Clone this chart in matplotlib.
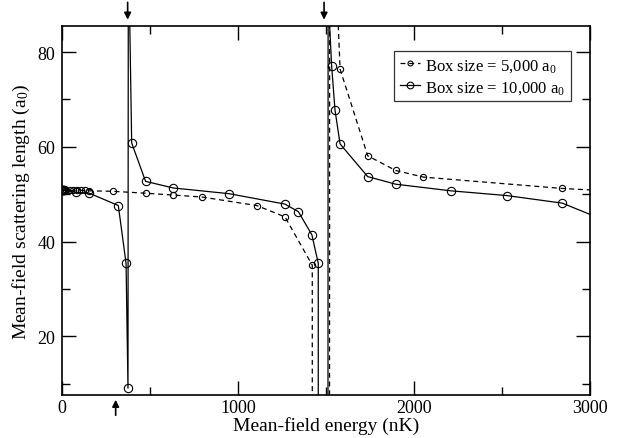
import numpy as np
import matplotlib
matplotlib.use("Agg")
import matplotlib.pyplot as plt

plt.rcParams['font.family'] = ['Liberation Serif', 'DejaVu Serif']
plt.rcParams['mathtext.fontset'] = 'custom'
plt.rcParams['mathtext.rm'] = 'Liberation Serif'
plt.rcParams['mathtext.it'] = 'Liberation Serif:italic'

# box size 5,000 a0 (dashed)
x_small = [0, 2, 4, 7, 10, 14, 20, 45, 64, 85, 108, 131, 155, 290, 475, 633, 794, 1106, 1267,
           1422, 1424, 1518, 1521, 1580, 1737, 1896, 2053, 2843, 3100]
y_small = [50.9, 50.9, 50.9, 50.9, 50.9, 50.9, 50.9, 50.8, 50.8, 50.8, 50.8, 50.8, 50.7, 50.6,
           50.2, 49.8, 49.4, 47.6, 45.2, 35.0, -300, -300, 130, 76.4, 58.1, 55.0, 53.6, 51.2, 50.7]
# markers only where real points are (not the off-scale helpers)
m_small = [i for i, y in enumerate(y_small) if 0 < y < 100 and x_small[i] <= 3000]

# box size 10,000 a0 (solid)
x_big = [0, 2, 4, 7, 10, 14, 80, 155, 320, 364, 375, 377, 396, 475, 633, 949, 1267, 1343, 1420,
         1456, 1457, 1509, 1512, 1532, 1551, 1580, 1737, 1896, 2210, 2527, 2843, 3160]
y_big = [50.8, 50.8, 50.8, 50.8, 50.8, 50.8, 50.4, 50.2, 47.6, 35.4, 9.05, 105, 60.8, 52.7, 51.3,
         50.1, 47.9, 46.3, 41.4, 35.4, -300, -300, 92, 77.1, 67.8, 60.6, 53.7, 52.1, 50.7, 49.7,
         48.1, 43.3]
m_big = [i for i, y in enumerate(y_big) if 0 < y < 100 and x_big[i] <= 3000]

arrows_down = [373, 1489]
arrows_up = [305]

fig = plt.figure(figsize=(6.28, 4.39), dpi=100)
ax = fig.add_axes([0.0987, 0.098, 0.8408, 0.8405])

ax.plot(x_small, y_small, color='black', lw=0.9, ls=(0, (4, 3)), marker='o', ms=4.5,
        mfc='none', mew=0.8, markevery=m_small, label=r'Box size = 5,000 a$_0$')
ax.plot(x_big, y_big, color='black', lw=0.9, ls='-', marker='o', ms=6,
        mfc='none', mew=0.8, markevery=m_big, label=r'Box size = 10,000 a$_0$')

ax.set_xlim(0, 3000)
ax.set_ylim(7.6, 85.5)
ax.set_xticks([0, 1000, 2000, 3000])
ax.set_xticks([500, 1500, 2500], minor=True)
ax.set_yticks([20, 40, 60, 80])
ax.set_yticks([10, 30, 50, 70], minor=True)
ax.tick_params(which='both', direction='in', top=True, right=True, labelsize=13, width=1)
ax.tick_params(which='major', length=10, pad=5)
ax.tick_params(axis='x', which='major', pad=3)
ax.tick_params(which='minor', length=6)
for s in ax.spines.values():
    s.set_linewidth(1.2)

ax.set_xlabel('Mean-field energy (nK)', fontsize=14, labelpad=0)
ax.set_ylabel(r'Mean-field scattering length (a$_0$)', fontsize=14, labelpad=4)

leg = ax.legend(loc='upper right', bbox_to_anchor=(0.964, 0.932), fontsize=12, frameon=True,
                fancybox=False, edgecolor='black', handlelength=1.2, handletextpad=0.3,
                borderpad=0.35, labelspacing=0.3, borderaxespad=0, markerscale=0.8)
leg.get_frame().set_linewidth(0.9)

for xa in arrows_down:
    ax.annotate('', xy=(xa, 1.017), xycoords=('data', 'axes fraction'),
                xytext=(xa, 1.064), textcoords=('data', 'axes fraction'),
                arrowprops=dict(arrowstyle='-|>', color='black', lw=1.2, mutation_scale=10,
                                shrinkA=0, shrinkB=0))
for xa in arrows_up:
    ax.annotate('', xy=(xa, -0.013), xycoords=('data', 'axes fraction'),
                xytext=(xa, -0.055), textcoords=('data', 'axes fraction'),
                arrowprops=dict(arrowstyle='-|>', color='black', lw=1.2, mutation_scale=10,
                                shrinkA=0, shrinkB=0))

fig.savefig('out.png', dpi=100)
